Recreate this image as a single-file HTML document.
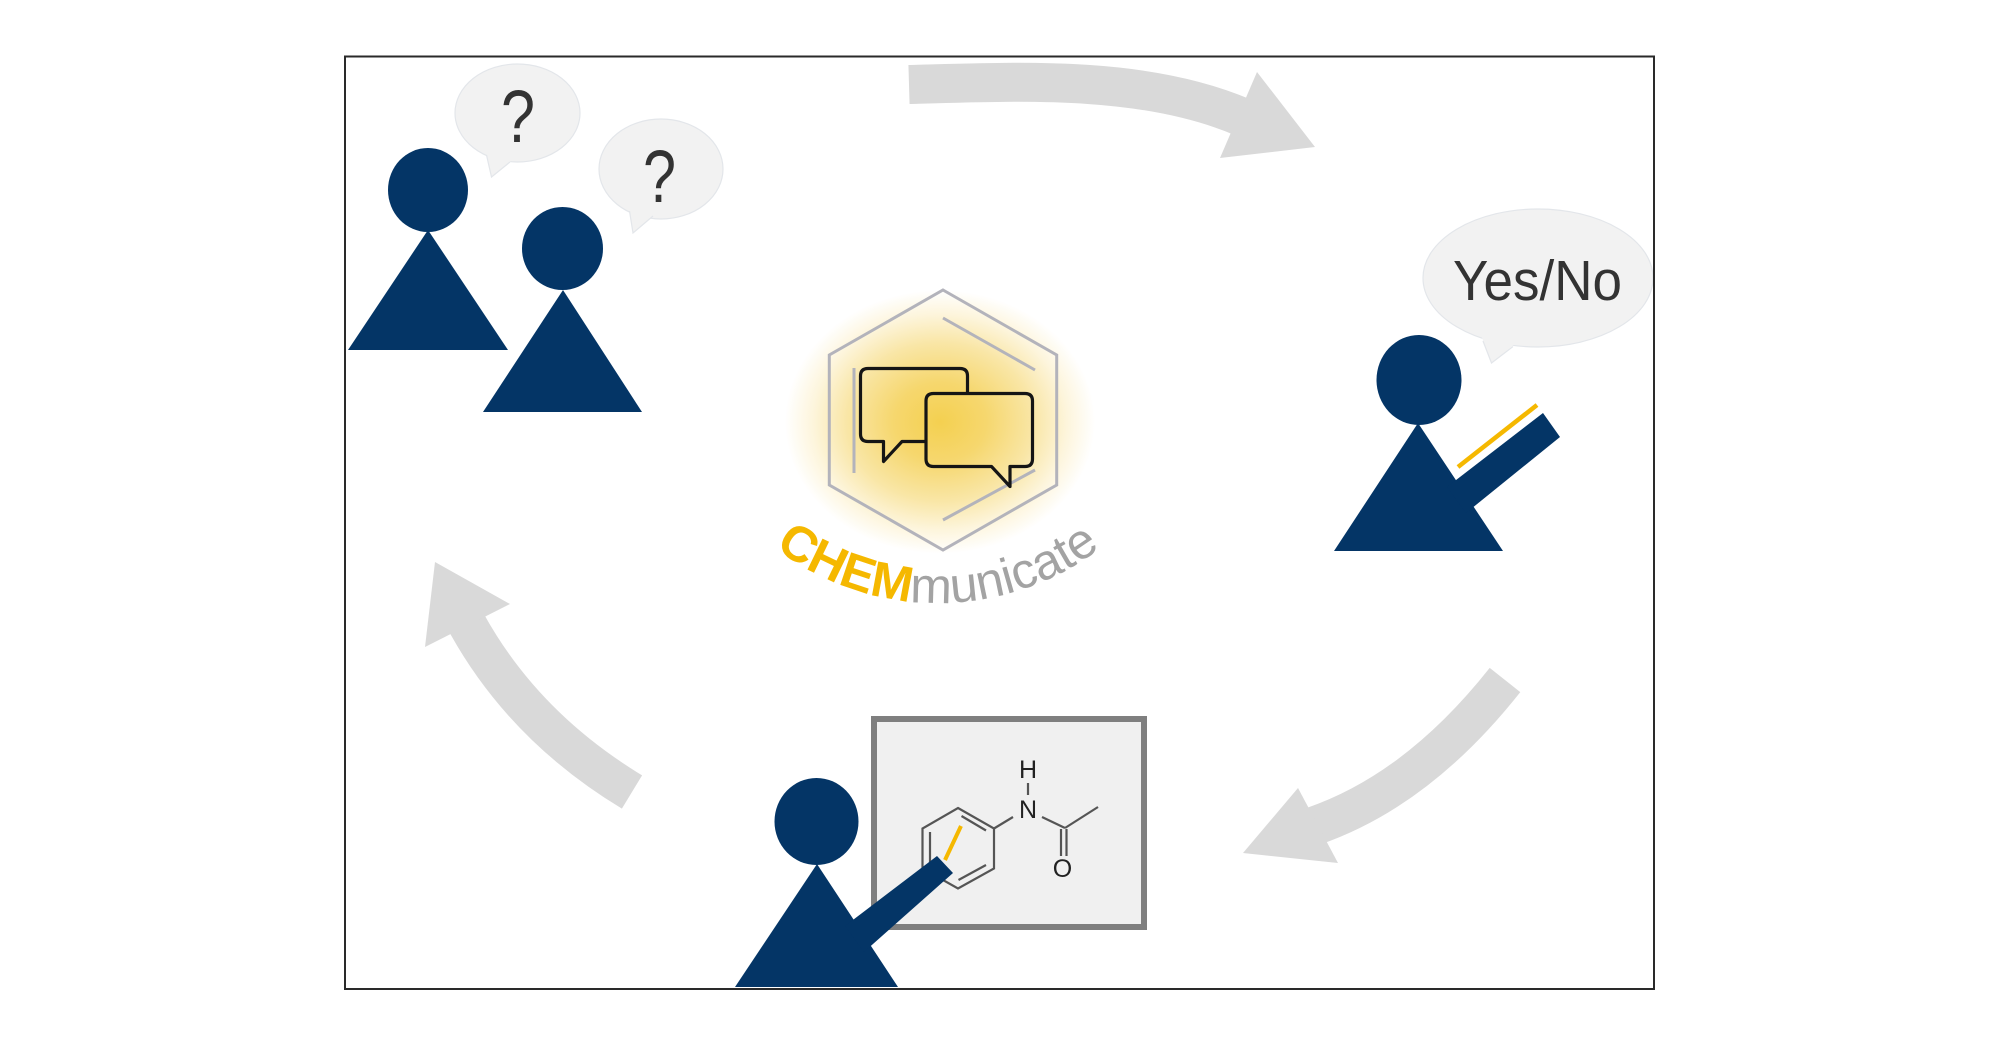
<!DOCTYPE html>
<html><head><meta charset="utf-8"><style>
html,body{margin:0;padding:0;background:#fff;}
svg{display:block;}
text{font-family:"Liberation Sans",Arial,sans-serif;}
</style></head><body>
<svg width="2000" height="1046" viewBox="0 0 2000 1046" xmlns="http://www.w3.org/2000/svg">
<defs>
<radialGradient id="glow" cx="940" cy="422" r="155" gradientUnits="userSpaceOnUse" gradientTransform="translate(940 422) scale(1 0.85) translate(-940 -422)">
<stop offset="0" stop-color="#f4d050"/>
<stop offset="0.3" stop-color="#f6d76e"/>
<stop offset="0.6" stop-color="#f9e6a6"/>
<stop offset="0.82" stop-color="#fdf5dc"/>
<stop offset="1" stop-color="#ffffff"/>
</radialGradient>
<path id="arc" d="M 774.8 547.6 A 268 268 0 0 0 1104.8 544.7"/>
</defs>
<rect width="2000" height="1046" fill="#fff"/>

<!-- arrows -->
<g fill="none" stroke="#d9d9d9" stroke-width="39">
<path d="M 909 84.5 C 1029 81 1146 76.4 1242 117"/>
<path d="M 1505 680 Q 1418 790 1314 826"/>
<path d="M 632 792 Q 523 726 466 622"/>
</g>
<g fill="#d9d9d9">
<polygon points="1315,147 1257,72 1220,158"/>
<polygon points="1243,853 1298,788 1338,863"/>
<polygon points="435,562 425,647 510,604"/>
</g>

<!-- speech bubbles with ? -->
<ellipse cx="517.5" cy="113" rx="62.5" ry="49" fill="#f2f2f2" stroke="#e3e6ea" stroke-width="1.2"/>
<polygon points="486,150 491.5,177 512,160" fill="#f2f2f2"/>
<polyline points="486.5,155 491.5,177 510,162" fill="none" stroke="#e3e6ea" stroke-width="1.2"/>
<text x="518" y="142" font-size="74" fill="#333" text-anchor="middle" textLength="34" lengthAdjust="spacingAndGlyphs">?</text>

<ellipse cx="661" cy="169" rx="62" ry="50" fill="#f2f2f2" stroke="#e3e6ea" stroke-width="1.2"/>
<polygon points="628,205 633,233 656,213" fill="#f2f2f2"/>
<polyline points="629.5,211 633,233 653,216" fill="none" stroke="#e3e6ea" stroke-width="1.2"/>
<text x="659.5" y="202" font-size="74" fill="#333" text-anchor="middle" textLength="33" lengthAdjust="spacingAndGlyphs">?</text>

<!-- persons 1 & 2 -->
<g fill="#043566">
<ellipse cx="428" cy="190" rx="40" ry="42"/>
<polygon points="428,230 348,350 508,350"/>
<ellipse cx="562.5" cy="248.5" rx="40.5" ry="41.5"/>
<polygon points="563,290 483,412 642,412"/>
</g>

<!-- Yes/No bubble -->
<ellipse cx="1538" cy="278" rx="115" ry="69" fill="#f2f2f2" stroke="#e3e6ea" stroke-width="1.2"/>
<polygon points="1481,335 1491.5,363 1516,343" fill="#f2f2f2"/>
<polyline points="1483,341 1491.5,363 1513,346.5" fill="none" stroke="#e3e6ea" stroke-width="1.2"/>
<text x="1453" y="300" font-size="57" fill="#333" textLength="169" lengthAdjust="spacingAndGlyphs">Yes/No</text>

<!-- person 3 -->
<g fill="#043566">
<ellipse cx="1419" cy="380" rx="42.5" ry="45"/>
<polygon points="1418,423 1334,551 1503,551"/>
<polygon points="1447,487 1543,413 1560,437 1466,513"/>
</g>
<line x1="1458" y1="467" x2="1537" y2="405" stroke="#f5b800" stroke-width="4.5"/>

<!-- logo -->
<ellipse cx="940" cy="422" rx="160" ry="136" fill="url(#glow)"/>
<g fill="none" stroke="#b3b3bb" stroke-width="3">
<polygon points="943,290 1056.7,355 1056.7,485 943,550 829.3,485 829.3,355"/>
<line x1="943" y1="318" x2="1035" y2="370"/>
<line x1="854" y1="368" x2="854" y2="473"/>
<line x1="943" y1="520" x2="1035" y2="470"/>
</g>
<g stroke="#151515" stroke-width="3.2" stroke-linejoin="round" fill="url(#glow)">
<path d="M 868 368.5 H 960 Q 967.5 368.5 967.5 376 V 434 Q 967.5 441.5 960 441.5 H 902 L 883.5 461.5 V 441.5 H 868 Q 860.5 441.5 860.5 434 V 376 Q 860.5 368.5 868 368.5 Z"/>
<path d="M 933.5 393.5 H 1025 Q 1032.5 393.5 1032.5 401 V 459 Q 1032.5 466.5 1025 466.5 H 1010 V 486.5 L 991.5 466.5 H 933.5 Q 926 466.5 926 459 V 401 Q 926 393.5 933.5 393.5 Z"/>
</g>
<text font-size="50"><textPath href="#arc"><tspan fill="#f5b800" font-weight="bold">CHEM</tspan><tspan fill="#a3a3a3">municate</tspan></textPath></text>

<!-- board -->
<rect x="874" y="719" width="270" height="208" fill="#f0f0f0" stroke="#7f7f7f" stroke-width="6"/>
<g fill="none" stroke="#555" stroke-width="2.2">
<polygon points="958,808 994,828.5 994,868.5 958,888.5 922.5,868.5 922.5,828.5"/>
<line x1="930" y1="832" x2="930" y2="865"/>
<line x1="961.5" y1="816" x2="986" y2="830.5"/>
<line x1="958.5" y1="880" x2="986" y2="865"/>
<line x1="994" y1="828.5" x2="1013" y2="817"/>
<line x1="1028" y1="783" x2="1028" y2="795"/>
<line x1="1042" y1="817" x2="1065" y2="828"/>
<line x1="1065" y1="828" x2="1098" y2="807"/>
<line x1="1061" y1="829" x2="1061" y2="856"/>
<line x1="1066.5" y1="829" x2="1066.5" y2="856"/>
</g>
<g fill="#222" font-size="25" text-anchor="middle">
<text x="1028" y="778">H</text>
<text x="1028" y="818">N</text>
<text x="1062.5" y="877">O</text>
</g>
<line x1="945" y1="860" x2="961" y2="826" stroke="#f5b800" stroke-width="4"/>

<!-- person 4 -->
<g fill="#043566">
<ellipse cx="816.5" cy="821.5" rx="42" ry="43.5"/>
<polygon points="817,864 735,987 898,987"/>
<polygon points="845,926 937,856 953,873 864,952"/>
</g>

<!-- frame -->
<rect x="345" y="56.5" width="1309" height="932.5" fill="none" stroke="#2a2a2a" stroke-width="2"/>
</svg>
</body></html>
